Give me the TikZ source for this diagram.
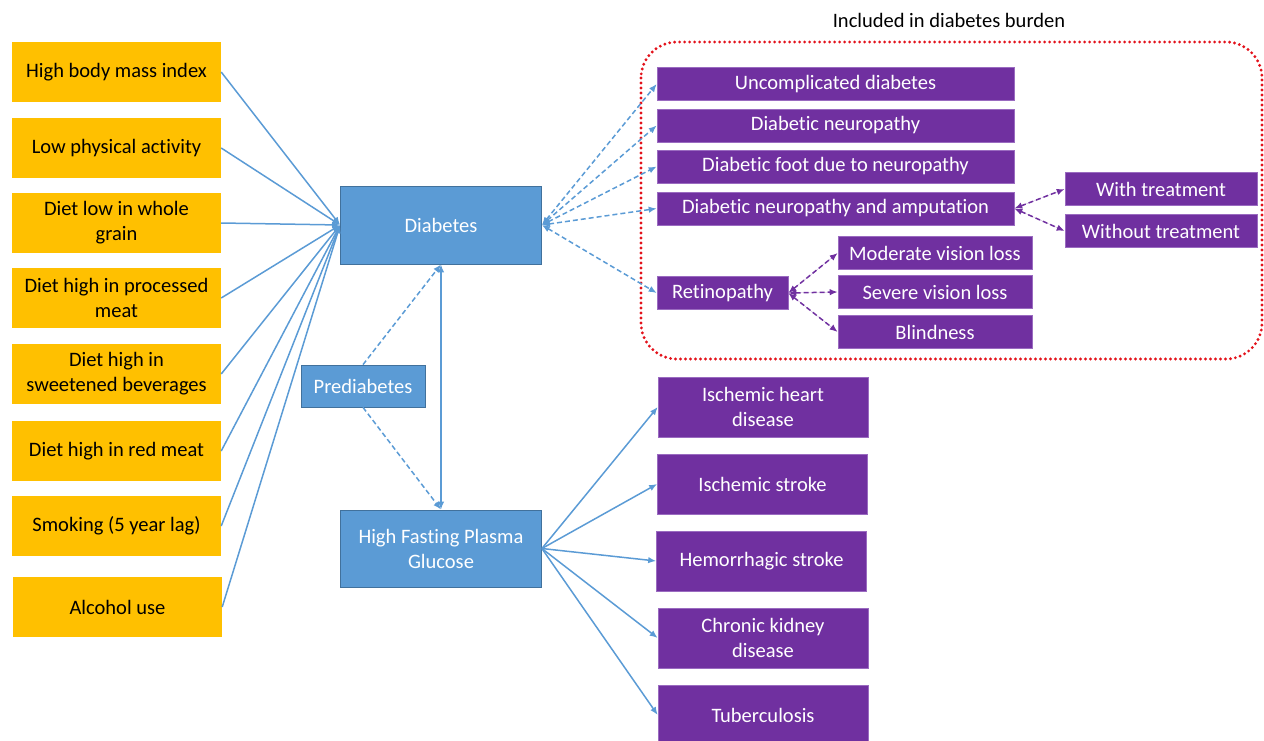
\documentclass[tikz,border=0pt]{standalone}
\usepackage{fontspec}
\setmainfont[Ligatures=NoCommon]{Carlito}
\usetikzlibrary{arrows.meta}
\definecolor{Amber}{HTML}{FFC000}
\definecolor{Sky}{HTML}{5B9BD5}
\definecolor{SkyEdge}{HTML}{41719C}
\definecolor{Plum}{HTML}{7030A0}
\definecolor{PlumEdge}{HTML}{9A6BC0}
\definecolor{Alarm}{HTML}{E3121B}

\begin{document}
\begin{tikzpicture}[x=1pt,y=-1pt,
  box/.style={inner sep=0pt,align=center,font=\fontsize{20.5}{25}\selectfont},
  risk/.style={box,fill=Amber,minimum width=209pt,minimum height=60pt},
  hub/.style={box,fill=Sky,draw=SkyEdge,line width=0.8pt,text=white},
  outbox/.style={box,fill=Plum,draw=PlumEdge,line width=0.6pt,text=white,minimum height=33pt},
  late/.style={outbox,minimum width=210pt,minimum height=60pt},
  link/.style={draw=Sky,line width=1.5pt,-{Latex[length=8pt,width=6.5pt]}},
  dlink/.style={link,dashed,dash pattern=on 5pt off 3pt,{Latex[length=8pt,width=6.5pt]}-{Latex[length=8pt,width=6.5pt]}},
  plink/.style={dlink,draw=Plum,fill=Plum}]
\useasboundingbox (0,0) rectangle (1264,740);

% risk factors
\node[risk] (r1) at (116.5,72) {High body mass index};
\node[risk] (r2) at (116.5,148) {Low physical activity};
\node[risk] (r3) at (116.5,223) {Diet low in whole\\grain};
\node[risk] (r4) at (116.5,298) {Diet high in processed\\meat};
\node[risk] (r5) at (116.5,374) {Diet high in\\sweetened beverages};
\node[risk] (r6) at (116.5,451) {Diet high in red meat};
\node[risk] (r7) at (116.5,526) {Smoking (5 year lag)};
\node[risk] (r8) at (117.5,607) {Alcohol use};

% central boxes
\node[hub,minimum width=201pt,minimum height=78pt] (dia) at (441,225) {Diabetes};
\node[hub,minimum width=124pt,minimum height=42pt] (pre) at (363,386) {Prediabetes};
\node[hub,minimum width=201pt,minimum height=77pt] (fpg) at (441,548.5) {High Fasting Plasma\\Glucose};

% included in diabetes burden
\node[box] (title) at (949,20) {Included in diabetes burden};
\draw[Alarm,line width=3.2pt,line cap=round,dash pattern=on 0pt off 5pt,rounded corners=36pt]
  (641,42) rectangle (1262,359);
\node[outbox,minimum width=357pt] (unc) at (835.5,84) {Uncomplicated diabetes};
\node[outbox,minimum width=357pt] (neu) at (835.5,125.5) {Diabetic neuropathy};
\node[outbox,minimum width=357pt] (foot) at (835.5,166.5) {Diabetic foot due to neuropathy};
\node[outbox,minimum width=357pt] (amp) at (835.5,208.5) {Diabetic neuropathy and amputation};
\node[outbox,minimum width=192pt] (wt) at (1161,189) {With treatment};
\node[outbox,minimum width=192pt] (wot) at (1161,231) {Without treatment};
\node[outbox,minimum width=131pt] (ret) at (722.5,293) {Retinopathy};
\node[outbox,minimum width=194pt] (mod) at (935,253) {Moderate vision loss};
\node[outbox,minimum width=194pt] (sev) at (935,292) {Severe vision loss};
\node[outbox,minimum width=194pt] (bli) at (935,332) {Blindness};

% other outcomes
\node[late] (ihd) at (763,407) {Ischemic heart\\disease};
\node[late] (isc) at (762.5,484) {Ischemic stroke};
\node[late] (hem) at (761.5,561) {Hemorrhagic stroke};
\node[late] (ckd) at (763,638) {Chronic kidney\\disease};
\node[late] (tb) at (763,715) {Tuberculosis};

% connectors
\foreach \r in {r1,r2,r3,r4,r5,r6,r7,r8}
  \draw[link] (\r.east) -- (dia.west);
\draw[link,{Latex[length=8pt,width=6.5pt]}-{Latex[length=8pt,width=6.5pt]}] (dia.south) -- (fpg.north);
\draw[link,dashed,dash pattern=on 5pt off 3pt] (pre.north) -- (dia.south);
\draw[link,dashed,dash pattern=on 5pt off 3pt] (pre.south) -- (fpg.north);
\foreach \o in {unc,neu,foot,amp,ret}
  \draw[dlink] (dia.east) -- (\o.west);
\foreach \o in {wt,wot}
  \draw[plink] (amp.east) -- (\o.west);
\foreach \o in {mod,sev,bli}
  \draw[plink] (ret.east) -- (\o.west);
\foreach \o in {ihd,isc,hem,ckd,tb}
  \draw[link] (fpg.east) -- (\o.west);
\end{tikzpicture}
\end{document}
